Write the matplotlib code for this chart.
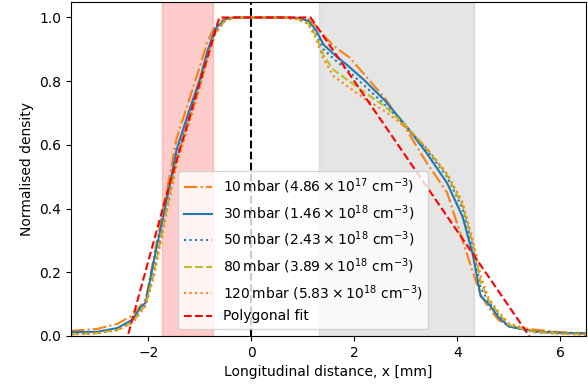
import matplotlib.pyplot as plt
import numpy as np

x = [-3.5, -3.0, -2.6, -2.3, -2.15, -2.05, -1.9, -1.75, -1.6, -1.45, -1.2, -1.0,
     -0.85, -0.7, -0.5, -0.3, 0.6, 0.9, 1.1, 1.25, 1.4, 1.6, 1.9, 2.2, 2.6, 3.0,
     3.4, 3.8, 4.1, 4.3, 4.45, 4.6, 4.8, 5.0, 5.5, 6.0, 6.5]

n10 = [0.016, 0.022, 0.038, 0.065, 0.095, 0.115, 0.24, 0.37, 0.49, 0.62, 0.745, 0.845,
       0.925, 0.975, 0.998, 1.0, 1.0, 0.999, 0.995, 0.975, 0.945, 0.91, 0.875, 0.82, 0.745, 0.65,
       0.545, 0.45, 0.30, 0.20, 0.13, 0.09, 0.05, 0.03, 0.02, 0.012, 0.008]
n30 = [0.012, 0.013, 0.025, 0.052, 0.09, 0.105, 0.23, 0.345, 0.46, 0.585, 0.71, 0.805,
       0.895, 0.965, 0.995, 1.0, 1.0, 0.998, 0.99, 0.962, 0.915, 0.885, 0.845, 0.802, 0.738, 0.66,
       0.575, 0.48, 0.375, 0.255, 0.125, 0.102, 0.058, 0.03, 0.014, 0.01, 0.008]
n50 = [0.006, 0.01, 0.02, 0.045, 0.08, 0.10, 0.20, 0.32, 0.44, 0.56, 0.69, 0.79,
       0.88, 0.955, 0.993, 1.0, 1.0, 0.995, 0.985, 0.95, 0.90, 0.87, 0.83, 0.785, 0.725, 0.66,
       0.585, 0.50, 0.40, 0.28, 0.15, 0.11, 0.065, 0.03, 0.012, 0.007, 0.005]
n80 = [0.005, 0.009, 0.019, 0.043, 0.078, 0.098, 0.19, 0.31, 0.43, 0.55, 0.68, 0.785,
       0.875, 0.952, 0.992, 1.0, 1.0, 0.995, 0.983, 0.945, 0.88, 0.835, 0.80, 0.765, 0.72, 0.66,
       0.59, 0.505, 0.41, 0.29, 0.17, 0.115, 0.07, 0.035, 0.012, 0.007, 0.005]
n120 = [0.005, 0.008, 0.018, 0.042, 0.075, 0.095, 0.18, 0.30, 0.42, 0.54, 0.67, 0.78,
        0.87, 0.95, 0.99, 1.0, 1.0, 0.994, 0.98, 0.935, 0.87, 0.815, 0.78, 0.745, 0.705, 0.655,
        0.59, 0.51, 0.42, 0.30, 0.19, 0.12, 0.075, 0.04, 0.015, 0.008, 0.005]

# Polygonal fit vertices
fit_x = [-2.5, -1.6, -0.62, 1.15, 5.5]
fit_y = [-0.06, 0.47, 1.0, 1.0, -0.025]

labels = [r'10$\,$mbar ($4.86\times10^{17}$ cm$^{-3}$)',
          r'30$\,$mbar ($1.46\times10^{18}$ cm$^{-3}$)',
          r'50$\,$mbar ($2.43\times10^{18}$ cm$^{-3}$)',
          r'80$\,$mbar ($3.89\times10^{18}$ cm$^{-3}$)',
          r'120$\,$mbar ($5.83\times10^{18}$ cm$^{-3}$)']

fig, ax = plt.subplots(figsize=(5.88, 3.87), dpi=100)
fig.subplots_adjust(left=0.1207, right=0.997, top=0.996, bottom=0.1318)

# Shaded regions
ax.axvspan(-1.73, -0.74, color='red', alpha=0.2)
ax.axvspan(1.32, 4.33, color='gray', alpha=0.2)
ax.axvline(0, color='k', linestyle='--', linewidth=1.5)

ax.plot(x, n10, '-.', color='C1', linewidth=1.5, label=labels[0])
ax.plot(x, n30, '-', color='C0', linewidth=1.5, label=labels[1])
ax.plot(x, n50, ':', color='C0', linewidth=1.5, label=labels[2])
ax.plot(x, n80, '--', color='C8', linewidth=1.5, label=labels[3])
ax.plot(x, n120, ':', color='C1', linewidth=1.5, label=labels[4])
ax.plot(fit_x, fit_y, '--', color='red', linewidth=1.5, label='Polygonal fit')

ax.set_xlim(-3.5, 6.5)
ax.set_ylim(0, 1.05)
ax.set_xlabel('Longitudinal distance, x [mm]')
ax.set_ylabel('Normalised density')

ax.legend(loc='lower left', bbox_to_anchor=(0.195, 0))

plt.savefig('out.png', dpi=100)
